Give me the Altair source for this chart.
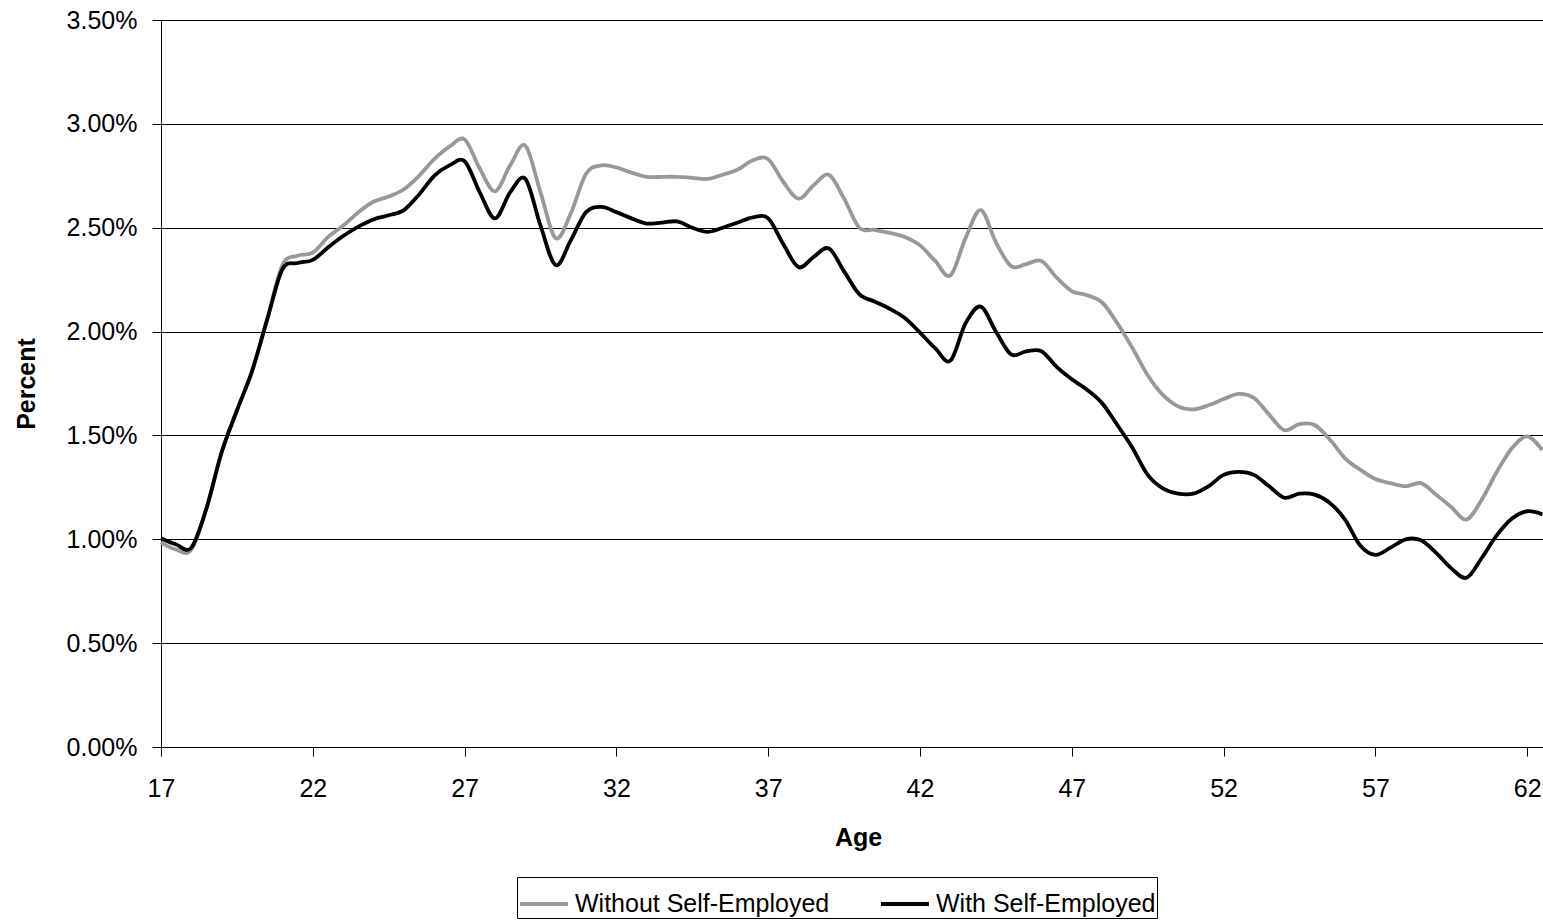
import altair as alt
import pandas as pd

# Age in years (half-year steps)
ages = [17.0, 17.5, 18.0, 18.5, 19.0, 19.5, 20.0, 20.5, 21.0, 21.5,
        22.0, 22.5, 23.0, 23.5, 24.0, 24.5, 25.0, 25.5, 26.0, 26.5,
        27.0, 27.5, 28.0, 28.5, 29.0, 29.5, 30.0, 30.5, 31.0, 31.5,
        32.0, 32.5, 33.0, 33.5, 34.0, 34.5, 35.0, 35.5, 36.0, 36.5,
        37.0, 37.5, 38.0, 38.5, 39.0, 39.5, 40.0, 40.5, 41.0, 41.5,
        42.0, 42.5, 43.0, 43.5, 44.0, 44.5, 45.0, 45.5, 46.0, 46.5,
        47.0, 47.5, 48.0, 48.5, 49.0, 49.5, 50.0, 50.5, 51.0, 51.5,
        52.0, 52.5, 53.0, 53.5, 54.0, 54.5, 55.0, 55.5, 56.0, 56.5,
        57.0, 57.5, 58.0, 58.5, 59.0, 59.5, 60.0, 60.5, 61.0, 61.5,
        62.0, 62.5]

# Percent, excluding the self-employed
without_self = [0.985, 0.95, 0.95, 1.15, 1.42, 1.62, 1.81, 2.06, 2.32, 2.365,
                2.38, 2.455, 2.51, 2.575, 2.625, 2.65, 2.685, 2.75, 2.83, 2.89,
                2.925, 2.785, 2.675, 2.80, 2.895, 2.67, 2.45, 2.57, 2.76, 2.80,
                2.79, 2.765, 2.745, 2.745, 2.745, 2.74, 2.735, 2.755, 2.78, 2.825,
                2.83, 2.72, 2.64, 2.705, 2.755, 2.64, 2.50, 2.49, 2.475, 2.455,
                2.415, 2.34, 2.27, 2.45, 2.585, 2.43, 2.315, 2.325, 2.34, 2.26,
                2.195, 2.175, 2.14, 2.04, 1.92, 1.79, 1.695, 1.64, 1.625, 1.645,
                1.675, 1.70, 1.68, 1.60, 1.525, 1.555, 1.55, 1.48, 1.39, 1.335,
                1.29, 1.27, 1.255, 1.27, 1.215, 1.155, 1.095, 1.19, 1.325, 1.44,
                1.495, 1.43]

# Percent, including the self-employed
with_self = [1.005, 0.975, 0.96, 1.15, 1.42, 1.62, 1.81, 2.06, 2.30, 2.33,
             2.345, 2.405, 2.46, 2.505, 2.54, 2.56, 2.585, 2.66, 2.75, 2.80,
             2.82, 2.67, 2.545, 2.67, 2.735, 2.51, 2.32, 2.44, 2.575, 2.60,
             2.575, 2.545, 2.52, 2.525, 2.53, 2.50, 2.48, 2.50, 2.525, 2.55,
             2.545, 2.42, 2.31, 2.36, 2.40, 2.29, 2.18, 2.145, 2.11, 2.065,
             1.995, 1.92, 1.86, 2.04, 2.12, 2.00, 1.89, 1.905, 1.905, 1.83,
             1.77, 1.72, 1.655, 1.55, 1.44, 1.31, 1.245, 1.22, 1.22, 1.255,
             1.31, 1.325, 1.31, 1.255, 1.20, 1.22, 1.215, 1.175, 1.095, 0.97,
             0.925, 0.96, 1.00, 0.995, 0.935, 0.86, 0.815, 0.91, 1.02, 1.10,
             1.135, 1.12]

series_names = ["Without Self-Employed", "With Self-Employed"]
series_colors = ["#999999", "#000000"]
x_ticks = [17, 22, 27, 32, 37, 42, 47, 52, 57, 62]
y_ticks = [0.0, 0.5, 1.0, 1.5, 2.0, 2.5, 3.0, 3.5]

df = pd.DataFrame({
    "Age": ages * 2,
    "Percent": without_self + with_self,
    "Series": [series_names[0]] * len(ages) + [series_names[1]] * len(ages),
})

FONT = "Liberation Sans"

x_enc = alt.X(
    "Age:Q",
    scale=alt.Scale(domain=[17, 62.52], nice=False, zero=False),
    axis=alt.Axis(
        values=x_ticks, grid=False, tickSize=9, labelPadding=20,
        labelFontSize=25, labelFont=FONT, labelColor="black",
        labelFlush=False, labelOverlap=False,
        domainColor="black", tickColor="black",
        title="Age", titleFontSize=25, titleFont=FONT, titleFontWeight="bold",
        titleColor="black", titleX=697, titleY=98,
        titleAlign="center", titleBaseline="alphabetic",
    ),
)
y_enc = alt.Y(
    "Percent:Q",
    scale=alt.Scale(domain=[0, 3.5], nice=False),
    axis=alt.Axis(
        values=y_ticks, grid=True, gridColor="black", gridWidth=1,
        tickSize=9, labelPadding=15, labelFontSize=25, labelFont=FONT,
        labelColor="black", labelFlush=False, labelOverlap=False,
        labelExpr="format(datum.value, '.2f') + '%'",
        domainColor="black", tickColor="black",
        title="Percent", titleFontSize=25, titleFont=FONT,
        titleFontWeight="bold", titleColor="black",
        titleX=-135, titleY=363.5, titleAngle=270,
        titleAlign="center", titleBaseline="middle",
    ),
)
color_enc = alt.Color(
    "Series:N",
    scale=alt.Scale(domain=series_names, range=series_colors),
    legend=alt.Legend(
        orient="none", legendX=356, legendY=857, direction="horizontal",
        title=None, symbolType="stroke", symbolSize=2304,
        symbolStrokeWidth=4, labelFontSize=25, labelFont=FONT,
        labelColor="black", labelLimit=500, labelOffset=5,
        columnPadding=43, padding=1,
        strokeColor="black", fillColor="white",
    ),
)

base = alt.Chart(df).mark_line(strokeWidth=3.8, interpolate="cardinal").encode(
    x=x_enc, y=y_enc, color=color_enc
)

# gray series first so the black one is drawn on top
gray_line = base.transform_filter(alt.datum.Series == series_names[0])
black_line = base.transform_filter(alt.datum.Series == series_names[1])

chart = (
    alt.layer(gray_line, black_line)
    .properties(
        width=1382,
        height=727,
        autosize=alt.AutoSizeParams(type="none"),
        padding={"left": 161, "top": 20, "right": 0, "bottom": 174},
        background="white",
    )
    .configure_view(stroke="transparent")
)

chart.save("out.html", embed_options={"renderer": "svg", "actions": False})
